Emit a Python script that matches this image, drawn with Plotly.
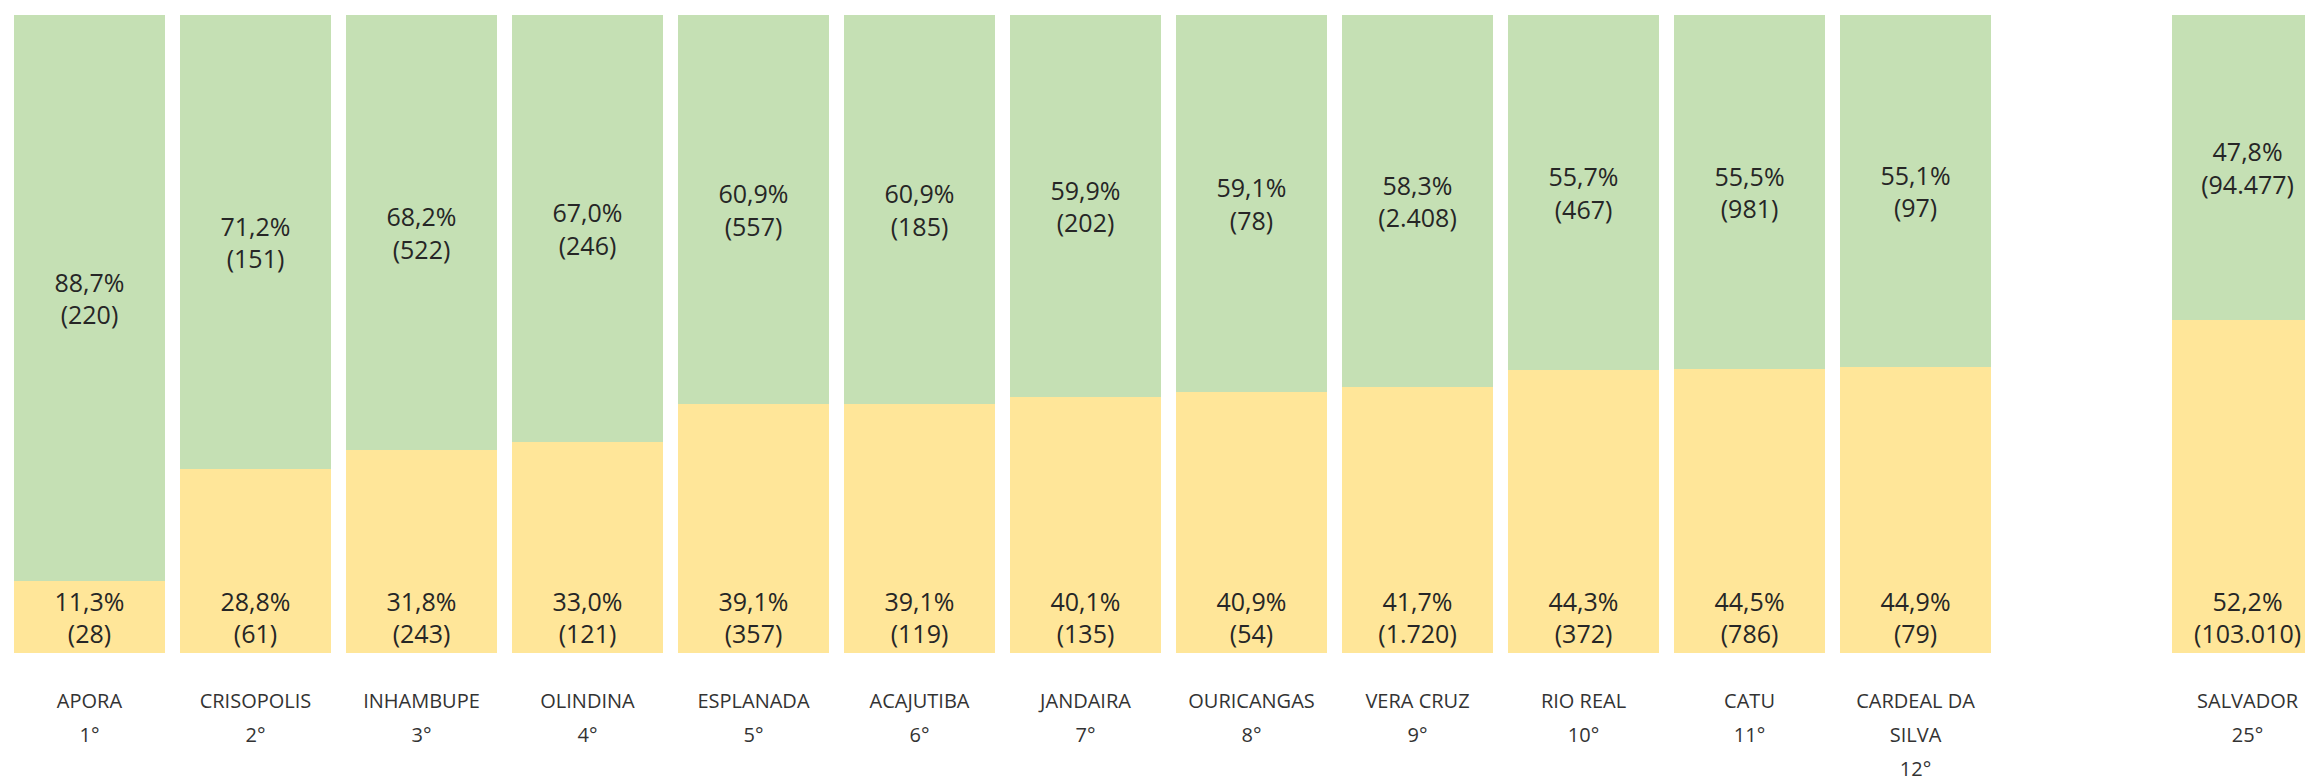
import plotly.graph_objects as go

# Municipalities ranked, with Salvador shown separately after a gap
municipios = ["APORA", "CRISOPOLIS", "INHAMBUPE", "OLINDINA", "ESPLANADA", "ACAJUTIBA",
              "JANDAIRA", "OURICANGAS", "VERA CRUZ", "RIO REAL", "CATU",
              "CARDEAL DA<br>SILVA", "SALVADOR"]
posicoes = ["1°", "2°", "3°", "4°", "5°", "6°", "7°", "8°", "9°", "10°", "11°", "12°", "25°"]

pct_verde = [88.7, 71.2, 68.2, 67.0, 60.9, 60.9, 59.9, 59.1, 58.3, 55.7, 55.5, 55.1, 47.8]
n_verde = [220, 151, 522, 246, 557, 185, 202, 78, 2408, 467, 981, 97, 94477]
pct_amarelo = [11.3, 28.8, 31.8, 33.0, 39.1, 39.1, 40.1, 40.9, 41.7, 44.3, 44.5, 44.9, 52.2]
n_amarelo = [28, 61, 243, 121, 357, 119, 135, 54, 1720, 372, 786, 79, 103010]

COR_VERDE = "#C5E0B4"
COR_AMARELO = "#FFE699"
COR_TEXTO = "#262626"
FONTE = "Open Sans"


def fmt_pct(v):
    return f"{v:.1f}".replace(".", ",") + "%"


def fmt_n(v):
    return f"{v:,}".replace(",", ".")


def rotulo(nome, pos):
    # each line in a 20px span; the surrounding 26px font sets the line spacing
    linhas = nome.split("<br>") + [pos]
    return "<br>".join(f"<span style='font-size:20px'>{l}</span>" for l in linhas)


# x slots: the last bar (Salvador) is separated by one empty slot
xs = list(range(len(municipios) - 1)) + [len(municipios)]

txt_verde = [f"{fmt_pct(p)}<br>({fmt_n(n)})" for p, n in zip(pct_verde, n_verde)]
txt_amarelo = [f"{fmt_pct(p)}<br>({fmt_n(n)})" for p, n in zip(pct_amarelo, n_amarelo)]

fig = go.Figure()
fig.add_trace(go.Bar(
    x=xs, y=pct_amarelo, width=0.91,
    marker=dict(color=COR_AMARELO, line=dict(width=0)),
    text=txt_amarelo, textposition="inside", insidetextanchor="start",
    textfont=dict(family=FONTE, size=25, color=COR_TEXTO),
    hoverinfo="skip", showlegend=False,
))
fig.add_trace(go.Bar(
    x=xs, y=pct_verde, width=0.91,
    marker=dict(color=COR_VERDE, line=dict(width=0)),
    text=txt_verde, textposition="inside", insidetextanchor="middle",
    textfont=dict(family=FONTE, size=25, color=COR_TEXTO),
    hoverinfo="skip", showlegend=False,
))

fig.update_layout(
    barmode="stack",
    width=2305, height=778,
    margin=dict(l=0, r=0, t=15, b=125),
    paper_bgcolor="white", plot_bgcolor="white",
    uniformtext=dict(minsize=25, mode="show"),
    xaxis=dict(
        range=[-0.539, 13.346],
        tickmode="array", tickvals=xs,
        ticktext=[rotulo(m, p) for m, p in zip(municipios, posicoes)],
        tickfont=dict(family=FONTE, size=26, color="#333333"),
        showgrid=False, zeroline=False, showline=False, ticks="",
        ticklabelstandoff=28, automargin=False,
    ),
    yaxis=dict(range=[0, 100], visible=False, automargin=False),
)

fig.write_html("out.html")
